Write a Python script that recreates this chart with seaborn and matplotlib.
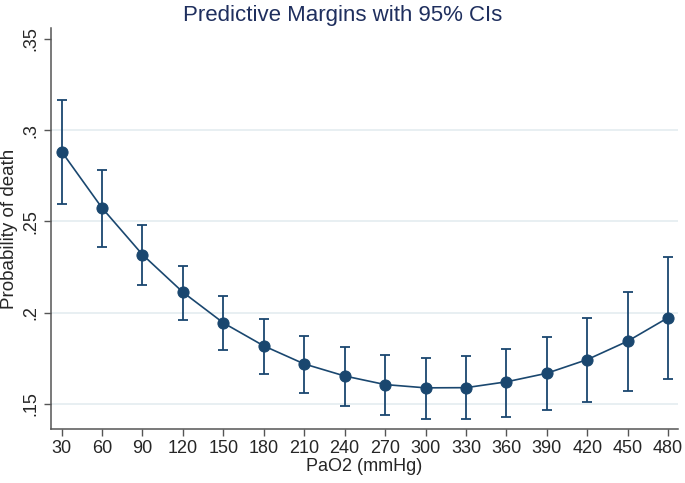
import numpy as np
import pandas as pd
import seaborn as sns
import matplotlib
matplotlib.use("Agg")
import matplotlib.pyplot as plt
from matplotlib.ticker import FuncFormatter

# PaO2 (mmHg) と予測確率・95% CI
pao2 = [30, 60, 90, 120, 150, 180, 210, 240, 270, 300, 330, 360, 390, 420, 450, 480]
margin = [0.2883, 0.2574, 0.2318, 0.2112, 0.1944, 0.1818, 0.1719, 0.1653,
          0.1606, 0.1588, 0.1589, 0.1621, 0.1668, 0.1743, 0.1844, 0.1973]
ci_low = [0.2596, 0.2362, 0.2150, 0.1962, 0.1798, 0.1664, 0.1562, 0.1486,
          0.1440, 0.1418, 0.1416, 0.1430, 0.1465, 0.1511, 0.1570, 0.1637]
ci_high = [0.3166, 0.2784, 0.2483, 0.2256, 0.2092, 0.1968, 0.1873, 0.1811,
           0.1770, 0.1754, 0.1763, 0.1800, 0.1869, 0.1973, 0.2114, 0.2306]
yticks = [0.15, 0.2, 0.25, 0.3, 0.35]

NAVY = "#1a476f"
TITLE = "#1f2f5e"
GRID = "#e8eff2"
AXIS = "#555555"

df = pd.DataFrame({"pao2": pao2, "margin": margin, "lo": ci_low, "hi": ci_high})

sns.set_style("white")
plt.rcParams["font.family"] = ["Liberation Sans", "DejaVu Sans"]

fig = plt.figure(figsize=(6.85, 4.83), dpi=100)
ax = fig.add_axes([0.074, 0.112, 0.916, 0.830])

# grid lines (.15 - .3)
for v in yticks[:-1]:
    ax.axhline(v, color=GRID, lw=1.4, zorder=0)

ax.errorbar(df["pao2"], df["margin"],
            yerr=[df["margin"] - df["lo"], df["hi"] - df["margin"]],
            fmt="none", ecolor=NAVY, elinewidth=1.3, capsize=3.5, capthick=1.3, zorder=2)
sns.lineplot(data=df, x="pao2", y="margin", ax=ax, color=NAVY, lw=1.2,
             marker="o", markersize=8, markeredgecolor=NAVY, zorder=3)

ax.set_xlim(21.9, 487.4)
ax.set_ylim(0.1363, 0.356)
ax.set_xticks(pao2)
ax.set_yticks(yticks)
ax.yaxis.set_major_formatter(FuncFormatter(lambda v, _: f"{v:.2f}".rstrip("0").lstrip("0")))
for lbl in ax.get_yticklabels():
    lbl.set_rotation(90)
    lbl.set_va("center")

ax.tick_params(axis="both", direction="out", length=5, width=1, color=AXIS,
               labelsize=13, pad=3, left=True, bottom=True)
for s in ["top", "right"]:
    ax.spines[s].set_visible(False)
for s in ["left", "bottom"]:
    ax.spines[s].set_color(AXIS)
    ax.spines[s].set_linewidth(1.1)

ax.set_xlabel("PaO2 (mmHg)", fontsize=13, labelpad=1)
ax.set_ylabel("Probability of death", fontsize=13.5, labelpad=3)
fig.suptitle("Predictive Margins with 95% CIs", fontsize=16, color=TITLE, y=0.99)

fig.savefig("out.png", dpi=100)
